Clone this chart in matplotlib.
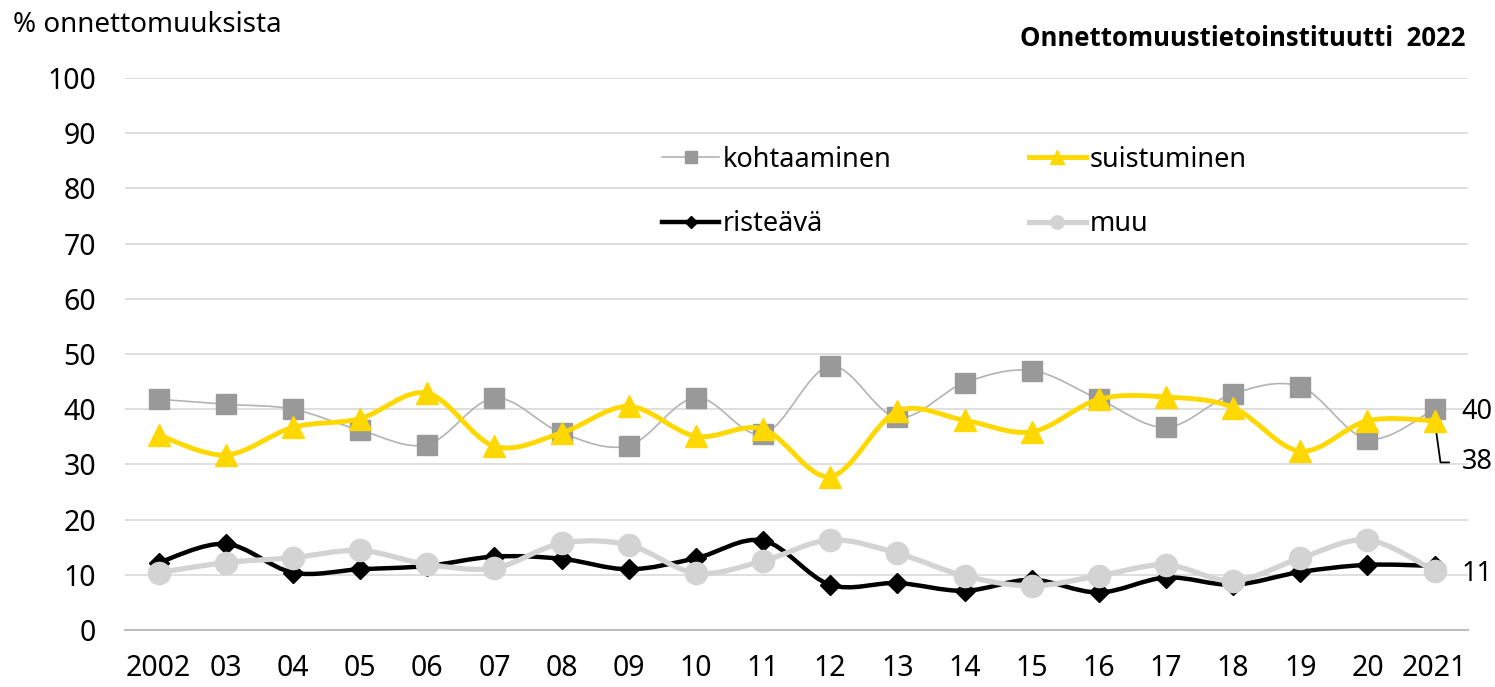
import numpy as np
import matplotlib
matplotlib.use("Agg")
import matplotlib.pyplot as plt
from matplotlib.path import Path
from matplotlib.patches import PathPatch, Rectangle
from matplotlib.lines import Line2D

plt.rcParams["font.family"] = ["Noto Sans", "DejaVu Sans"]

# ---------------------------------------------------------------------------
# Data (% of accidents by type)
# ---------------------------------------------------------------------------
year_labels = ["2002", "03", "04", "05", "06", "07", "08", "09", "10", "11",
               "12", "13", "14", "15", "16", "17", "18", "19", "20", "2021"]

kohtaaminen = [41.8, 40.9, 40.0, 36.2, 33.6, 42.0, 35.7, 33.4, 42.1, 35.5,
               47.8, 38.5, 44.8, 47.0, 41.8, 36.7, 42.8, 44.1, 34.6, 40.0]
suistuminen = [35.3, 31.7, 36.7, 38.3, 42.9, 33.3, 35.7, 40.5, 35.1, 36.4,
               27.8, 39.6, 38.0, 35.9, 41.8, 42.2, 40.3, 32.4, 37.9, 37.9]
risteava = [12.2, 15.6, 10.4, 11.0, 11.6, 13.3, 12.9, 11.0, 13.0, 16.2,
            8.2, 8.5, 7.1, 9.1, 6.8, 9.5, 8.2, 10.5, 11.8, 11.6]
muu = [10.4, 12.2, 13.1, 14.4, 11.9, 11.2, 15.7, 15.4, 10.3, 12.5,
       16.3, 13.9, 9.8, 8.0, 9.8, 11.8, 8.9, 13.0, 16.3, 10.7]

end_labels = ["40", "38", "11"]


def smooth_path(x, y):
    """Excel-style smoothed line: cubic Bezier through the points."""
    pts = np.column_stack([x, y]).astype(float)
    n = len(pts)
    verts = [pts[0]]
    codes = [Path.MOVETO]
    for i in range(n - 1):
        p0 = pts[i - 1] if i > 0 else pts[i]
        p1 = pts[i]
        p2 = pts[i + 1]
        p3 = pts[i + 2] if i + 2 < n else pts[i + 1]
        c1 = p1 + (p2 - p0) / 6.0
        c2 = p2 - (p3 - p1) / 6.0
        verts += [c1, c2, p2]
        codes += [Path.CURVE4] * 3
    return Path(verts, codes)


fig = plt.figure(figsize=(14.95, 6.87), dpi=100)
ax = fig.add_axes([0.0836, 0.083, 0.8985, 0.8035])

x = np.arange(len(year_labels))

series = [
    # values, label, line colour, line width, marker, marker size, marker colour
    (kohtaaminen, "kohtaaminen", "#b3b3b3", 1.2, "s", 15, "#999999"),
    (risteava, "risteävä", "#000000", 3.2, "D", 10, "#000000"),
    (suistuminen, "suistuminen", "#FFD800", 3.5, "^", 16, "#FFD800"),
    (muu, "muu", "#d3d3d3", 3.8, "o", 16, "#d3d3d3"),
]

handles = []
for z, (vals, label, lc, lw, mk, ms, mc) in enumerate(series):
    ax.add_patch(PathPatch(smooth_path(x, vals), facecolor="none",
                           edgecolor=lc, lw=lw, zorder=3 + z * 2,
                           capstyle="round", joinstyle="round"))
    ax.plot(x, vals, linestyle="none", marker=mk, markersize=ms,
            markerfacecolor=mc, markeredgecolor=mc, zorder=4 + z * 2)
    handles.append(Line2D([], [], color=lc, lw=lw, marker=mk,
                          markersize=ms * 0.6, markerfacecolor=mc,
                          markeredgecolor=mc, label=label))

ax.set_xlim(-0.5, len(x) - 0.5)
ax.set_ylim(0, 100)
ax.set_yticks(np.arange(0, 101, 10))
ax.set_xticks(x)
ax.set_xticklabels(year_labels)
ax.tick_params(axis="both", length=0, labelsize=20.5, colors="#000000")
ax.tick_params(axis="x", pad=17)
ax.tick_params(axis="y", pad=21)
ax.grid(axis="y", color="#d9d9d9", lw=1.2, zorder=0)
for s in ["top", "right", "left"]:
    ax.spines[s].set_visible(False)
ax.spines["bottom"].set_color("#bfbfbf")
ax.spines["bottom"].set_linewidth(1.5)

# white legend area hiding the gridlines behind it
ax.add_patch(Rectangle((0.348, 0.674), 0.547, 0.268, transform=ax.transAxes,
                       facecolor="white", edgecolor="none", zorder=1))
leg = ax.legend(handles=handles, ncol=2, loc="center left",
                bbox_to_anchor=(0.400, 0.7935), fontsize=19.5, frameon=False,
                handlelength=2.1, handletextpad=0.15, columnspacing=5.05,
                labelspacing=1.35, borderpad=0, borderaxespad=0)
leg.set_zorder(2)

# end-of-series value labels
ax.annotate(end_labels[0], xy=(x[-1], kohtaaminen[-1]), xytext=(19.5, -2),
            textcoords="offset points", fontsize=19.5, va="center", ha="left",
            annotation_clip=False)
ax.annotate(end_labels[1], xy=(x[-1], suistuminen[-1]),
            xytext=(19.5, -30), textcoords="offset points", fontsize=19.5,
            va="center", ha="left", annotation_clip=False,
            arrowprops=dict(arrowstyle="-", color="black", lw=1.3,
                            connectionstyle="angle,angleA=0,angleB=98,rad=0",
                            relpos=(0, 0.5), shrinkA=7, shrinkB=2))
ax.annotate(end_labels[2], xy=(x[-1], muu[-1]), xytext=(19.5, -2),
            textcoords="offset points", fontsize=19.5, va="center", ha="left",
            annotation_clip=False)

fig.text(13 / 1495, 1 - 25 / 687, "% onnettomuuksista", fontsize=20,
         ha="left", va="center")
fig.text(1465 / 1495, 1 - 38 / 687, "Onnettomuustietoinstituutti  2022",
         fontsize=18.5, fontweight="bold", ha="right", va="center",
         family=["Open Sans", "Lato", "DejaVu Sans"])

fig.savefig("out.png", dpi=100)
